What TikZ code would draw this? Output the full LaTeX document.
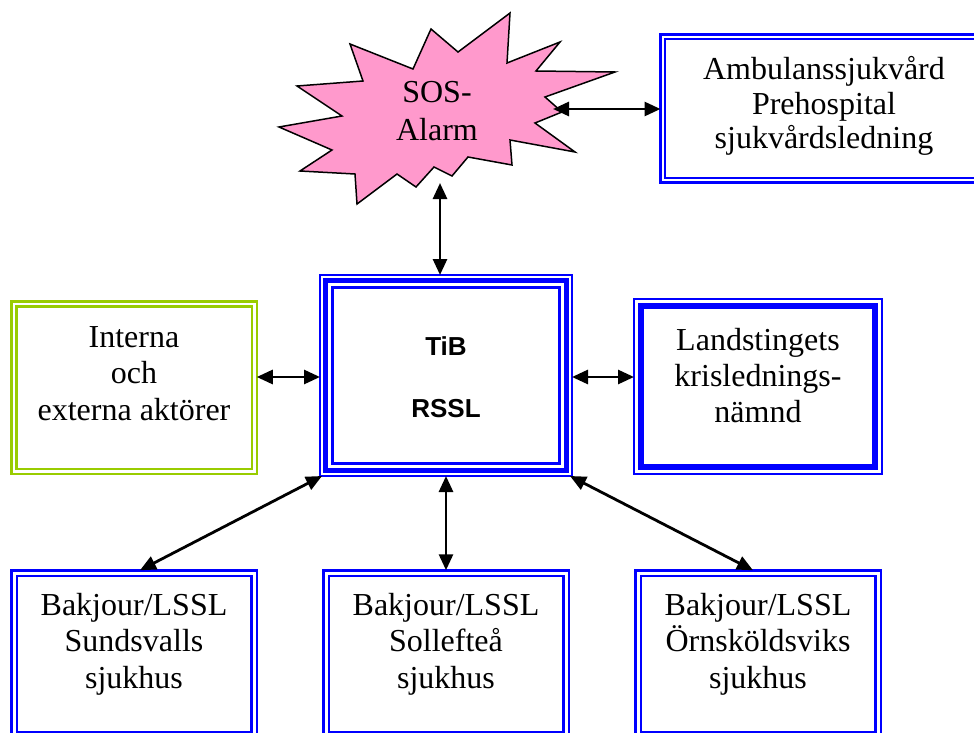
\documentclass[tikz,border=0pt]{standalone}
\usepackage{fontspec}
\setmainfont{Liberation Serif}
\newfontfamily\boldsans{Liberation Sans}
\usetikzlibrary{arrows.meta,calc}
\definecolor{wordblue}{RGB}{0,0,255}
\definecolor{wordgreen}{RGB}{153,204,0}
\definecolor{wordpink}{RGB}{255,153,204}
\begin{document}
\begin{tikzpicture}[x=1pt,y=-1pt,
  frame/.style={rectangle, inner sep=0pt, outer sep=0pt, draw=wordblue},
  boxtext/.style={align=center, inner sep=0pt, anchor=base, font=\fontsize{32}{36.5}\selectfont},
  arr/.style={{Triangle[length=16pt,width=14pt]}-{Triangle[length=16pt,width=14pt]}, line width=2.8pt, black}
]
\useasboundingbox (0,0) rectangle (974,733);
\clip (0,0) rectangle (974,733);
\fill[white] (0,0) rectangle (974,733);

% SOS starburst
\draw[fill=wordpink, line width=1.5pt, line join=miter]
 (431,29) -- (458,52) -- (510,13) -- (507,63) -- (560,42) -- (536,71) -- (615,72) -- (545,97) -- (562,112) -- (535,123) -- (575,152) -- (510,140) -- (512,165) -- (468,157) -- (452,176) -- (434,167) -- (416,187) -- (397,174) -- (357,204) -- (355,174) -- (300,171) -- (332,150) -- (279,127) -- (342,116) -- (297,86) -- (363,81) -- (350,44) -- (413,69) -- cycle;
\node[boxtext, font=\fontsize{32}{37}\selectfont] (sostext) at (437,140) {SOS-\\Alarm};
\coordinate (sosE) at (553,109);
\coordinate (sosS) at (440,183);

% Ambulans
\node[frame, line width=3pt, minimum width=328pt, minimum height=148pt] (amb) at (824.5,108.5) {};
\draw[wordblue, line width=2pt] ($(amb.north west)+(4.5,4.5)$) rectangle ($(amb.south east)+(-4.5,-4.5)$);
\node[boxtext, font=\fontsize{32}{34}\selectfont] (ambtext) at (824,148) {Ambulanssjukvård\\Prehospital\\sjukvårdsledning};

% TiB RSSL
\node[frame, line width=2pt, minimum width=252pt, minimum height=201pt] (tib) at (446,375.5) {};
\draw[wordblue, line width=5pt] ($(tib.north west)+(5.8,5.8)$) rectangle ($(tib.south east)+(-5.8,-5.8)$);
\draw[wordblue, line width=2.5pt] ($(tib.north west)+(12.3,12.3)$) rectangle ($(tib.south east)+(-12.3,-12.3)$);
\node[boxtext, font=\boldsans\bfseries\fontsize{26}{62}\selectfont] (tibtext) at (446,417) {TiB\\RSSL};

% Interna
\node[frame, draw=wordgreen, line width=2.5pt, minimum width=245.5pt, minimum height=172.5pt] (int) at (134,387.5) {};
\draw[wordgreen, line width=2.5pt] ($(int.north west)+(5,5)$) rectangle ($(int.south east)+(-5,-5)$);
\node[boxtext] (inttext) at (134,420) {Interna\\och\\externa aktörer};

% Landstinget
\node[frame, line width=2pt, minimum width=248pt, minimum height=175pt] (land) at (758,386.5) {};
\draw[wordblue, line width=6pt] ($(land.north west)+(7,7)$) rectangle ($(land.south east)+(-7,-7)$);
\node[boxtext, font=\fontsize{32}{36}\selectfont] (landtext) at (758,422) {Landstingets\\krislednings-\\nämnd};

% Bottom boxes
\node[frame, line width=2.5pt, minimum width=245.5pt, minimum height=167.5pt] (sund) at (134,654) {};
\draw[wordblue, line width=2.5pt] ($(sund.north west)+(5.5,5.5)$) rectangle ($(sund.south east)+(-5.5,-5.5)$);
\node[boxtext] (sundtext) at (134,688) {Bakjour/LSSL\\Sundsvalls\\sjukhus};

\node[frame, line width=2.5pt, minimum width=245.5pt, minimum height=167.5pt] (soll) at (446,654) {};
\draw[wordblue, line width=2.5pt] ($(soll.north west)+(5.5,5.5)$) rectangle ($(soll.south east)+(-5.5,-5.5)$);
\node[boxtext] (solltext) at (446,688) {Bakjour/LSSL\\Sollefteå\\sjukhus};

\node[frame, line width=2.5pt, minimum width=245.5pt, minimum height=167.5pt] (orn) at (758,654) {};
\draw[wordblue, line width=2.5pt] ($(orn.north west)+(5.5,5.5)$) rectangle ($(orn.south east)+(-5.5,-5.5)$);
\node[boxtext] (orntext) at (758,688) {Bakjour/LSSL\\Örnsköldsviks\\sjukhus};

% Connectors
\draw[arr] (sosE) -- (sosE -| amb.west);
\draw[arr] (sosS) -- (sosS |- tib.north);
\draw[arr] ([yshift=-1.5pt]int.east |- tib.west) -- ([yshift=-1.5pt]tib.west);
\draw[arr] ([yshift=-1.5pt]tib.east) -- ([yshift=-1.5pt]tib.east -| land.west);
\draw[arr] ([xshift=2pt]tib.south west) -- ([xshift=6pt]sund.north);
\draw[arr] (tib.south) -- (soll.north);
\draw[arr] ([xshift=-2pt]tib.south east) -- ([xshift=-5pt]orn.north);
\end{tikzpicture}
\end{document}
